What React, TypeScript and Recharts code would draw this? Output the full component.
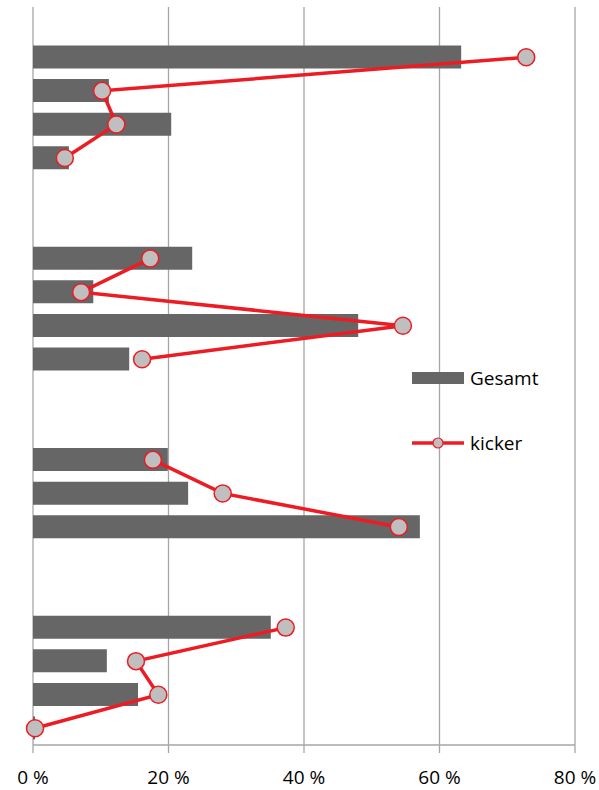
import { Bar, CartesianGrid, ComposedChart, Line, XAxis, YAxis } from 'recharts';

const categories = [
  'r0', 'r1', 'r2', 'r3', 'r4', 'r5', 'r6', 'r7', 'r8', 'r9', 'r10',
  'r11', 'r12', 'r13', 'r14', 'r15', 'r16', 'r17', 'r18', 'r19', 'r20', 'r21',
];
// which block of rows each category belongs to (0 = spacer row)
const groups = [
  0, 1, 1, 1, 1, 0, 0, 2, 2, 2, 2,
  0, 0, 3, 3, 3, 0, 0, 4, 4, 4, 4,
];
const gesamt = [
  null, 63.2, 11.2, 20.4, 5.3, null, null, 23.5, 8.9, 48, 14.2,
  null, null, 19.9, 22.9, 57.1, null, null, 35.1, 10.9, 15.5, 0.3,
];
const kicker = [
  null, 72.8, 10.2, 12.3, 4.7, null, null, 17.3, 7.1, 54.6, 16.1,
  null, null, 17.7, 28, 54, null, null, 37.3, 15.2, 18.5, 0.3,
];
const xTicks = [0, 20, 40, 60, 80];

const data = categories.map((cat, i) => ({
  cat,
  gesamt: gesamt[i],
  k1: groups[i] === 1 ? kicker[i] : undefined,
  k2: groups[i] === 2 ? kicker[i] : undefined,
  k3: groups[i] === 3 ? kicker[i] : undefined,
  k4: groups[i] === 4 ? kicker[i] : undefined,
}));

const RED = '#ec1c24';
const GREY_BAR = '#666666';
const GRID = '#a6a6a6';
const FONT = '"Open Sans", "Noto Sans", sans-serif';
const dotStyle = { r: 8.5, fill: '#bfbfbf', stroke: RED, strokeWidth: 1.5 };

const LegendBox = () => (
  <svg
    width={160}
    height={90}
    style={{ position: 'absolute', left: 412, top: 363, overflow: 'visible' }}
  >
    <rect x={0} y={9} width={52} height={12} fill={GREY_BAR} />
    <text x={58} y={15} dy="0.35em" fontSize={19} fontFamily={FONT} fill="#000">
      Gesamt
    </text>
    <line x1={0} x2={52} y1={80} y2={80} stroke={RED} strokeWidth={3.5} />
    <circle cx={26} cy={80} r={5} fill="#bfbfbf" stroke={RED} strokeWidth={1.2} />
    <text x={58} y={80} dy="0.35em" fontSize={19} fontFamily={FONT} fill="#000">
      kicker
    </text>
  </svg>
);

const App = () => {
  return (
    <div style={{ position: 'absolute', left: 0, top: 0, width: 599, height: 790 }}>
      <ComposedChart
        layout="vertical"
        width={599}
        height={790}
        data={data}
        margin={{ top: 7, right: 24, left: 33, bottom: 5 }}
      >
        <CartesianGrid horizontal={false} stroke={GRID} strokeWidth={1.3} />
        <XAxis
          type="number"
          domain={[0, 80]}
          ticks={xTicks}
          tickFormatter={(v) => `${v} %`}
          height={40}
          tickSize={8}
          tickMargin={18}
          stroke={GRID}
          strokeWidth={1.3}
          tick={{ fill: '#000', fontSize: 19, fontFamily: FONT }}
          interval={0}
        />
        <YAxis type="category" dataKey="cat" hide />
        <Bar dataKey="gesamt" name="Gesamt" fill={GREY_BAR} barSize={23} isAnimationActive={false} />
        {['k1', 'k2', 'k3', 'k4'].map((k) => (
          <Line
            key={k}
            dataKey={k}
            name="kicker"
            stroke={RED}
            strokeWidth={3.5}
            dot={dotStyle}
            activeDot={false}
            isAnimationActive={false}
          />
        ))}
      </ComposedChart>
      <LegendBox />
    </div>
  );
};

export default App;
